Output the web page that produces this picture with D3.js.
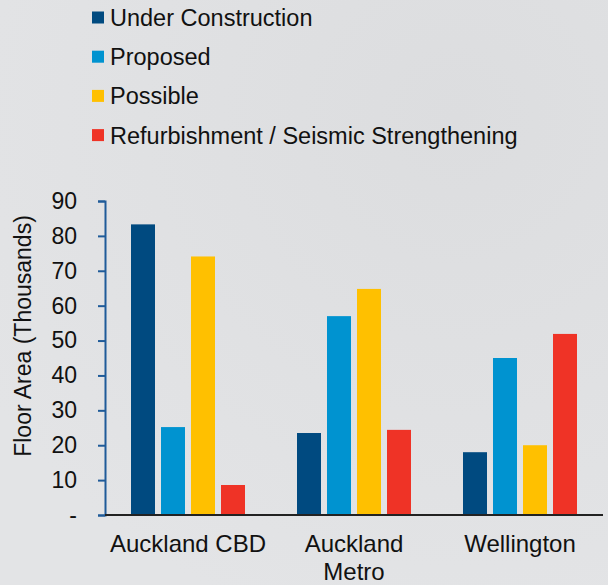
<!DOCTYPE html>
<html>
<head>
<meta charset="utf-8">
<script src="https://cdn.jsdelivr.net/npm/d3@7"></script>
<style>
  body { margin: 0; }
  svg { display: block; font-family: "Liberation Sans", Arial, sans-serif; }
</style>
</head>
<body>
<div id="chart"></div>
<script>
const categories = ["Auckland CBD", "Auckland Metro", "Wellington"];
const series = ["Under Construction", "Proposed", "Possible", "Refurbishment / Seismic Strengthening"];
const underConstruction = [83.3, 23.5, 18];
const proposed = [25.2, 57, 45];
const possible = [74.1, 64.8, 20];
const refurbishment = [8.6, 24.4, 51.9];
const yTicks = [0, 10, 20, 30, 40, 50, 60, 70, 80, 90];
const colors = ["#004a80", "#0093d0", "#ffc000", "#ef3326"];

const values = [underConstruction, proposed, possible, refurbishment];
const data = categories.map((c, i) => ({
    cat: c,
    vals: series.map((s, j) => ({ key: s, value: values[j][i] }))
}));

const width = 608, height = 585;
const svg = d3.select("#chart").append("svg")
    .attr("width", width)
    .attr("height", height);

const defs = svg.append("defs");
const grad = defs.append("radialGradient")
    .attr("id", "bg")
    .attr("cx", "75%").attr("cy", "20%").attr("r", "90%");
grad.append("stop").attr("offset", "0%").attr("stop-color", "#dcdddf");
grad.append("stop").attr("offset", "100%").attr("stop-color", "#e3e4e6");
svg.append("rect").attr("width", width).attr("height", height).attr("fill", "url(#bg)");

const x0 = d3.scaleBand().domain(categories).range([105, 603]).padding(0);
const x1 = d3.scaleBand().domain(series).range([26, 140]).paddingInner(0.2);
const y = d3.scaleLinear().domain([0, 90]).range([515, 201]);
const color = d3.scaleOrdinal().domain(series).range(colors);

// bars
const groups = svg.selectAll("g.grp")
    .data(data)
    .enter().append("g")
    .attr("class", "grp")
    .attr("transform", d => "translate(" + x0(d.cat) + ",0)");

groups.selectAll("rect")
    .data(d => d.vals)
    .enter().append("rect")
    .attr("x", d => x1(d.key))
    .attr("width", x1.bandwidth())
    .attr("y", d => y(d.value))
    .attr("height", d => y(0) - y(d.value))
    .attr("fill", d => color(d.key));

// y axis
const yAxis = svg.append("g")
    .attr("transform", "translate(105,0)")
    .call(d3.axisLeft(y).tickValues(yTicks).tickSize(7).tickPadding(21)
        .tickFormat(d => d === 0 ? "-" : d));
yAxis.select(".domain").attr("stroke", "#1f5b99").attr("stroke-width", 2);
yAxis.selectAll(".tick line").attr("stroke", "#1f5b99").attr("stroke-width", 2);
yAxis.selectAll(".tick text")
    .attr("font-size", 23)
    .attr("font-family", "Liberation Sans, Arial, sans-serif")
    .attr("fill", "#111");

// x axis line
svg.append("line")
    .attr("x1", 105).attr("x2", 603)
    .attr("y1", y(0)).attr("y2", y(0))
    .attr("stroke", "#222").attr("stroke-width", 2);

// category labels
const catLabels = svg.selectAll("text.cat")
    .data(categories)
    .enter().append("text")
    .attr("class", "cat")
    .attr("text-anchor", "middle")
    .attr("font-size", 24)
    .attr("fill", "#111")
    .attr("transform", d => "translate(" + (x0(d) + x0.bandwidth() / 2) + ",552)");
catLabels.each(function (d) {
    const lines = d === "Auckland Metro" ? ["Auckland", "Metro"] : [d];
    d3.select(this).selectAll("tspan")
        .data(lines)
        .enter().append("tspan")
        .attr("x", 0)
        .attr("dy", (l, i) => i === 0 ? 0 : 28)
        .text(l => l);
});

// y axis title
svg.append("text")
    .attr("transform", "translate(31,336) rotate(-90)")
    .attr("text-anchor", "middle")
    .attr("font-size", 23)
    .attr("fill", "#111")
    .text("Floor Area (Thousands)");

// legend
const legend = svg.selectAll("g.legend")
    .data(series)
    .enter().append("g")
    .attr("class", "legend")
    .attr("transform", (d, i) => "translate(92," + (17.5 + i * 39.2) + ")");
legend.append("rect")
    .attr("x", 0).attr("y", -6)
    .attr("width", 12).attr("height", 12)
    .attr("fill", d => color(d));
legend.append("text")
    .attr("x", 18).attr("y", 8.5)
    .attr("font-size", 23.5)
    .attr("fill", "#111")
    .text(d => d);
</script>
</body>
</html>
